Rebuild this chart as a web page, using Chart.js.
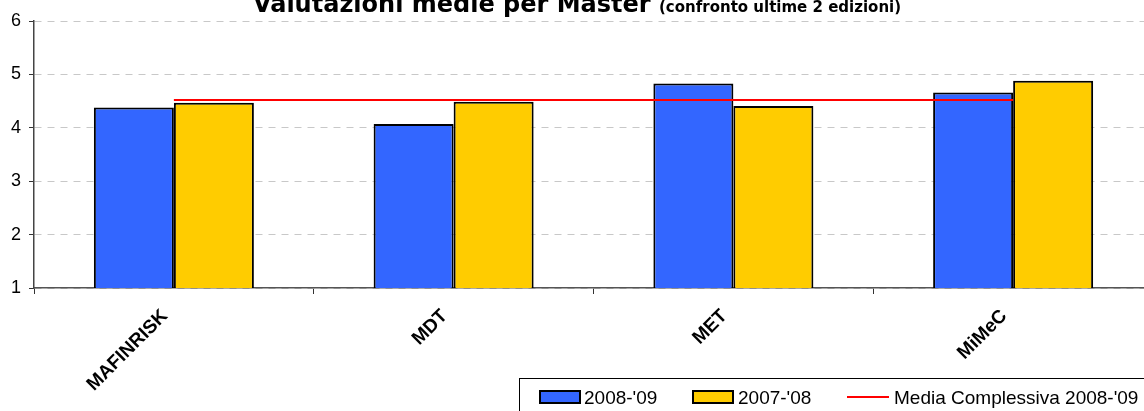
<!DOCTYPE html>
<html lang="it">
<head>
  <meta charset="UTF-8">
  <title>Valutazioni medie per Master</title>
  <style>
    html, body {
      margin: 0;
      padding: 0;
      background: #ffffff;
      overflow: hidden;
    }
    #wrap {
      position: absolute;
      left: 0;
      top: 0;
      width: 1160px;
      height: 411px;
    }
  </style>
</head>
<body>
  <div id="wrap"><canvas id="chart"></canvas></div>

  <script src="https://cdn.jsdelivr.net/npm/chart.js"></script>
  <script>
    // dati
    const master = ['MAFINRISK', 'MDT', 'MET', 'MiMeC'];
    const val2008 = [4.38, 4.07, 4.83, 4.66];
    const val2007 = [4.47, 4.49, 4.41, 4.88];
    const mediaComplessiva = [4.52, 4.52, 4.52, 4.52];
    const yTicks = [1, 2, 3, 4, 5, 6];

    const titolo = 'Valutazioni medie per Master';
    const sottotitolo = '(confronto ultime 2 edizioni)';

    // titolo disegnato a mano (due grandezze di carattere), tagliato in alto come nell'originale
    const titlePlugin = {
      id: 'titolo',
      afterDraw(chart) {
        const ctx = chart.ctx;
        ctx.save();
        ctx.fillStyle = '#000';
        ctx.textBaseline = 'alphabetic';
        ctx.textAlign = 'left';
        ctx.font = 'bold 24px "DejaVu Sans"';
        const w1 = ctx.measureText(titolo + ' ').width;
        ctx.font = 'bold 15px "DejaVu Sans"';
        const w2 = ctx.measureText(sottotitolo).width;
        let x = 577 - (w1 + w2) / 2;
        ctx.font = 'bold 24px "DejaVu Sans"';
        ctx.fillText(titolo, x, 12);
        ctx.font = 'bold 15px "DejaVu Sans"';
        ctx.fillText(sottotitolo, x + w1, 12);
        ctx.restore();
      }
    };

    // legenda in basso a destra, con cornice
    const legendPlugin = {
      id: 'legendaBox',
      afterDraw(chart) {
        const ctx = chart.ctx;
        const ds = chart.data.datasets;
        ctx.save();
        ctx.strokeStyle = '#000';
        ctx.lineWidth = 1;
        ctx.strokeRect(519.5, 378.5, 700, 60);

        ctx.font = '19px "Liberation Sans", Arial, sans-serif';
        ctx.textBaseline = 'alphabetic';

        // 2008-'09
        ctx.fillStyle = ds[0].backgroundColor;
        ctx.fillRect(540, 391, 40, 12);
        ctx.lineWidth = 2;
        ctx.strokeRect(540, 391, 40, 12);
        ctx.fillStyle = '#000';
        ctx.fillText(ds[0].label, 584, 404);

        // 2007-'08
        ctx.fillStyle = ds[1].backgroundColor;
        ctx.fillRect(693, 391, 40, 12);
        ctx.strokeRect(693, 391, 40, 12);
        ctx.fillStyle = '#000';
        ctx.fillText(ds[1].label, 738, 404);

        // media
        ctx.strokeStyle = ds[2].borderColor;
        ctx.lineWidth = 2;
        ctx.beginPath();
        ctx.moveTo(847, 397);
        ctx.lineTo(889, 397);
        ctx.stroke();
        ctx.fillText(ds[2].label, 894, 404);
        ctx.restore();
      }
    };

    const chart = new Chart(document.getElementById('chart'), {
      type: 'bar',
      data: {
        labels: master,
        datasets: [
          {
            label: "2008-'09",
            data: val2008,
            backgroundColor: '#3366FF',
            borderColor: '#000000',
            borderWidth: 2,
            order: 1
          },
          {
            label: "2007-'08",
            data: val2007,
            backgroundColor: '#FFCC00',
            borderColor: '#000000',
            borderWidth: 2,
            order: 1
          },
          {
            type: 'line',
            label: "Media Complessiva 2008-'09",
            data: mediaComplessiva,
            borderColor: '#FF0000',
            borderWidth: 2,
            pointRadius: 0,
            tension: 0,
            fill: false,
            order: 0
          }
        ]
      },
      options: {
        responsive: true,
        maintainAspectRatio: false,
        animation: false,
        layout: {
          padding: { top: 21, right: 7, left: 0, bottom: 0 }
        },
        datasets: {
          bar: {
            barPercentage: 1.0,
            categoryPercentage: 0.572
          }
        },
        plugins: {
          legend: { display: false },
          title: { display: false },
          tooltip: { enabled: false }
        },
        scales: {
          x: {
            offset: true,
            grid: {
              display: true,
              offset: true,
              drawOnChartArea: false,
              drawTicks: true,
              tickLength: 6,
              tickColor: '#333',
              tickWidth: 1
            },
            border: { display: true, color: '#555', width: 1.5 },
            ticks: {
              color: '#000',
              font: { family: '"Liberation Sans", Arial, sans-serif', size: 19, weight: 'bold' },
              minRotation: 45,
              maxRotation: 45,
              autoSkip: false,
              padding: 11,
              labelOffset: -9
            },
            afterFit(scale) { scale.height = 123; }
          },
          y: {
            min: 1,
            max: 6,
            afterBuildTicks(scale) {
              scale.ticks = yTicks.map(v => ({ value: v }));
            },
            grid: {
              color: '#c8c8c8',
              lineWidth: 1,
              tickColor: '#333',
              tickLength: 5,
              tickBorderDash: []
            },
            border: { display: true, color: '#444', width: 1.5, dash: [7, 6] },
            ticks: {
              color: '#000',
              font: { family: '"Liberation Sans", Arial, sans-serif', size: 18 },
              padding: 8
            },
            afterFit(scale) { scale.width = 34; }
          }
        }
      },
      plugins: [titlePlugin, legendPlugin]
    });
  </script>
</body>
</html>
